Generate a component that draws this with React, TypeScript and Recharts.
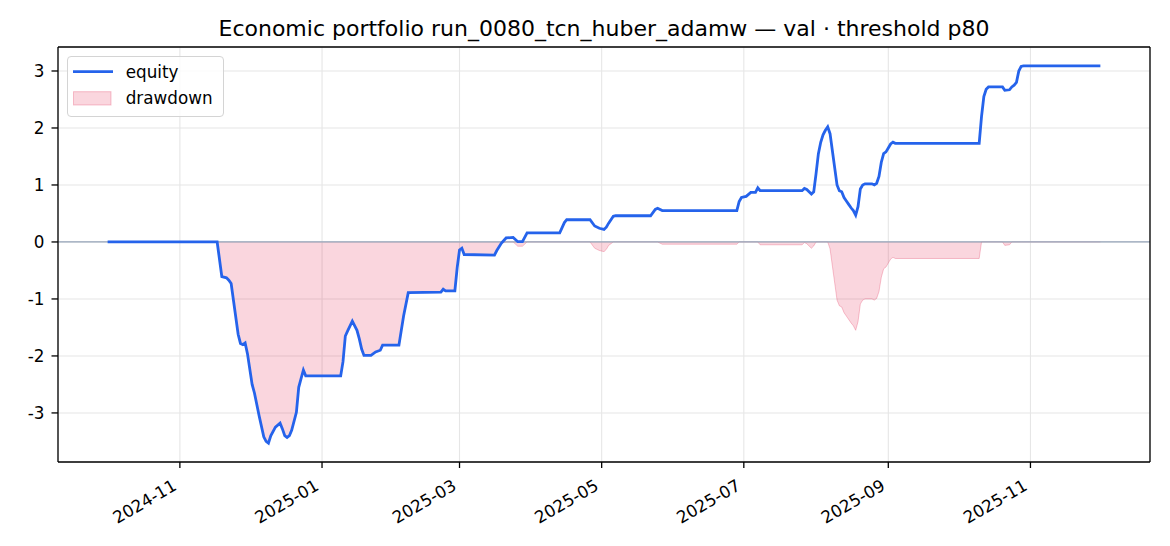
import {
  Area,
  CartesianGrid,
  ComposedChart,
  Legend,
  Line,
  ReferenceLine,
  XAxis,
  YAxis,
} from "recharts";

const FONT = "'DejaVu Sans', 'Liberation Sans', sans-serif";
const EQUITY_COLOR = "#2563eb";
const DD_COLOR = "#e11d48";

const title = "Economic portfolio run_0080_tcn_huber_adamw — val · threshold p80";

// daily equity (only the turning points)
const dates = [
  "2024-10-01", "2024-11-17", "2024-11-19", "2024-11-21", "2024-11-22", "2024-11-23",
  "2024-11-26", "2024-11-27", "2024-11-28", "2024-11-29", "2024-11-30",
  "2024-12-02", "2024-12-03", "2024-12-05", "2024-12-07", "2024-12-08", "2024-12-09",
  "2024-12-10", "2024-12-12", "2024-12-14", "2024-12-15", "2024-12-16", "2024-12-17",
  "2024-12-18", "2024-12-19", "2024-12-21", "2024-12-22", "2024-12-23", "2024-12-24",
  "2024-12-25",
  "2025-01-09", "2025-01-10", "2025-01-11", "2025-01-12", "2025-01-14", "2025-01-16",
  "2025-01-17", "2025-01-18", "2025-01-19", "2025-01-22", "2025-01-24", "2025-01-26",
  "2025-01-27",
  "2025-02-03", "2025-02-05", "2025-02-07", "2025-02-21", "2025-02-22", "2025-02-23",
  "2025-02-27", "2025-02-28",
  "2025-03-01", "2025-03-02", "2025-03-03", "2025-03-16", "2025-03-17", "2025-03-19",
  "2025-03-21", "2025-03-24", "2025-03-26", "2025-03-28", "2025-03-30",
  "2025-04-13", "2025-04-15", "2025-04-16", "2025-04-26", "2025-04-28", "2025-04-30",
  "2025-05-02", "2025-05-03", "2025-05-04", "2025-05-06", "2025-05-07", "2025-05-22",
  "2025-05-24", "2025-05-25", "2025-05-27",
  "2025-06-28", "2025-06-29", "2025-06-30",
  "2025-07-02", "2025-07-04", "2025-07-06", "2025-07-07", "2025-07-08", "2025-07-26",
  "2025-07-27", "2025-07-28", "2025-07-30", "2025-07-31",
  "2025-08-01", "2025-08-02", "2025-08-03", "2025-08-04", "2025-08-05", "2025-08-06",
  "2025-08-07", "2025-08-08", "2025-08-09", "2025-08-10", "2025-08-11", "2025-08-12",
  "2025-08-13", "2025-08-14", "2025-08-15", "2025-08-16", "2025-08-17", "2025-08-18",
  "2025-08-19", "2025-08-20", "2025-08-21", "2025-08-22", "2025-08-25", "2025-08-26",
  "2025-08-27", "2025-08-28", "2025-08-29", "2025-08-30", "2025-08-31",
  "2025-09-01", "2025-09-02", "2025-09-03", "2025-09-04",
  "2025-10-10", "2025-10-11", "2025-10-12", "2025-10-13", "2025-10-14", "2025-10-20",
  "2025-10-21", "2025-10-23", "2025-10-24", "2025-10-25", "2025-10-26", "2025-10-27",
  "2025-10-28", "2025-10-29",
  "2025-12-01",
];

const equity = [
  0.0, 0.0, -0.61, -0.63, -0.67, -0.73,
  -1.62, -1.78, -1.8, -1.77, -1.96,
  -2.5, -2.65, -3.05, -3.42, -3.5, -3.53,
  -3.4, -3.25, -3.18, -3.28, -3.4, -3.43,
  -3.4, -3.3, -2.99, -2.55, -2.4, -2.25,
  -2.35,
  -2.35, -2.1, -1.65, -1.56, -1.39, -1.55,
  -1.7, -1.88, -1.99, -1.99, -1.93, -1.9,
  -1.81,
  -1.81, -1.3, -0.89, -0.88, -0.83, -0.86,
  -0.86, -0.45,
  -0.14, -0.11, -0.22, -0.23, -0.15, -0.02,
  0.07, 0.08, 0.005, 0.005, 0.16,
  0.16, 0.34, 0.39, 0.39, 0.28, 0.24,
  0.22, 0.26, 0.33, 0.45, 0.46, 0.46,
  0.57, 0.59, 0.55,
  0.55, 0.71, 0.78,
  0.8, 0.87, 0.87, 0.95, 0.9, 0.9,
  0.94, 0.92, 0.84, 0.88,
  1.2, 1.55, 1.75, 1.88, 1.96, 2.02,
  1.9, 1.6, 1.3, 1.0, 0.9, 0.88,
  0.78, 0.72, 0.66, 0.6, 0.55, 0.47,
  0.62, 0.93, 1.0, 1.02, 1.02, 1.0,
  1.03, 1.15, 1.4, 1.55, 1.58,
  1.65, 1.72, 1.75, 1.73,
  1.73, 2.2, 2.55, 2.68, 2.72, 2.72,
  2.66, 2.67, 2.72, 2.75, 2.8, 3.0,
  3.08, 3.09,
  3.09,
];

const monthTicks = [
  "2024-11-01", "2025-01-01", "2025-03-01", "2025-05-01",
  "2025-07-01", "2025-09-01", "2025-11-01",
];

const yTicks = [-3, -2, -1, 0, 1, 2, 3];

// drawdown = equity below its running peak
let peak = -Infinity;
const rows = dates.map((d, i) => {
  peak = Math.max(peak, equity[i]);
  return { t: Date.parse(d), equity: equity[i], drawdown: equity[i] - peak };
});

const tMin = rows[0].t;
const tMax = rows[rows.length - 1].t;
const tPad = (tMax - tMin) * 0.05;
const vals = rows.flatMap((r) => [r.equity, r.drawdown]);
const vMin = Math.min(...vals);
const vMax = Math.max(...vals);
const vPad = (vMax - vMin) * 0.05;
const xDomain = [tMin - tPad, tMax + tPad];
const yDomain = [vMin - vPad, vMax + vPad];

const spine = { stroke: "#000", strokeWidth: 1.3 };

function DateTick({ x, y, payload }: any) {
  const label = new Date(payload.value).toISOString().slice(0, 7);
  const ax = x - 2;
  const ay = y + 15;
  return (
    <text
      x={ax}
      y={ay}
      transform={`rotate(-30 ${ax} ${ay})`}
      textAnchor="end"
      fontSize={16.8}
      fontFamily={FONT}
      fill="#000"
    >
      {label}
    </text>
  );
}

function LegendBox() {
  return (
    <div
      style={{
        width: 157,
        height: 61,
        boxSizing: "border-box",
        border: "1.3px solid #d4d4d4",
        borderRadius: 4,
        background: "rgba(255,255,255,0.8)",
        position: "relative",
      }}
    >
      <svg width={157} height={61} style={{ position: "absolute", left: -1, top: -1 }}>
        <line x1={6} x2={46} y1={15.7} y2={15.7} stroke={EQUITY_COLOR} strokeWidth={2.8} />
        <rect
          x={6.5}
          y={35.7}
          width={37.5}
          height={13.3}
          fill={DD_COLOR}
          fillOpacity={0.18}
          stroke={DD_COLOR}
          strokeOpacity={0.25}
        />
        <text x={58.7} y={15.5} dominantBaseline="central" fontSize={16.8} fontFamily={FONT} fill="#000">
          equity
        </text>
        <text x={58.7} y={42.3} dominantBaseline="central" fontSize={16.8} fontFamily={FONT} fill="#000">
          drawdown
        </text>
      </svg>
    </div>
  );
}

export default function App() {
  return (
    <div
      style={{
        position: "absolute",
        left: 0,
        top: 0,
        width: 1170,
        height: 546,
        background: "#fff",
        fontFamily: FONT,
      }}
    >
      <div
        style={{
          position: "absolute",
          left: 58,
          width: 1092,
          top: 18.2,
          lineHeight: "22px",
          fontSize: 22,
          textAlign: "center",
          color: "#000",
          whiteSpace: "nowrap",
        }}
      >
        {title}
      </div>
      <ComposedChart
        width={1170}
        height={546}
        data={rows}
        margin={{ top: 47, right: 20, bottom: 0, left: 0 }}
      >
        <CartesianGrid stroke="#e6e6e6" strokeWidth={1.1} />
        <XAxis
          dataKey="t"
          type="number"
          domain={xDomain}
          ticks={monthTicks.map((d) => Date.parse(d))}
          tick={<DateTick />}
          tickSize={6}
          tickMargin={6}
          height={84}
          allowDataOverflow
          axisLine={spine}
          tickLine={spine}
        />
        <YAxis
          type="number"
          domain={yDomain}
          ticks={yTicks}
          width={58}
          tickSize={6.5}
          tickMargin={7}
          allowDataOverflow
          tick={{ fontSize: 16.8, fill: "#000", fontFamily: FONT }}
          axisLine={spine}
          tickLine={spine}
        />
        <Area
          dataKey="drawdown"
          type="linear"
          baseValue={0}
          fill={DD_COLOR}
          fillOpacity={0.18}
          stroke={DD_COLOR}
          strokeOpacity={0.25}
          strokeWidth={1}
          dot={false}
          activeDot={false}
          isAnimationActive={false}
        />
        <ReferenceLine y={0} stroke="#94a3b8" strokeWidth={1.2} />
        <ReferenceLine y={yDomain[1]} {...spine} />
        <ReferenceLine x={xDomain[1]} {...spine} />
        <Line
          dataKey="equity"
          type="linear"
          stroke={EQUITY_COLOR}
          strokeWidth={2.8}
          dot={false}
          activeDot={false}
          isAnimationActive={false}
        />
        <Legend
          layout="vertical"
          align="center"
          verticalAlign="middle"
          content={<LegendBox />}
          wrapperStyle={{ left: 67, top: 56, width: 157, height: 61 }}
        />
      </ComposedChart>
    </div>
  );
}
